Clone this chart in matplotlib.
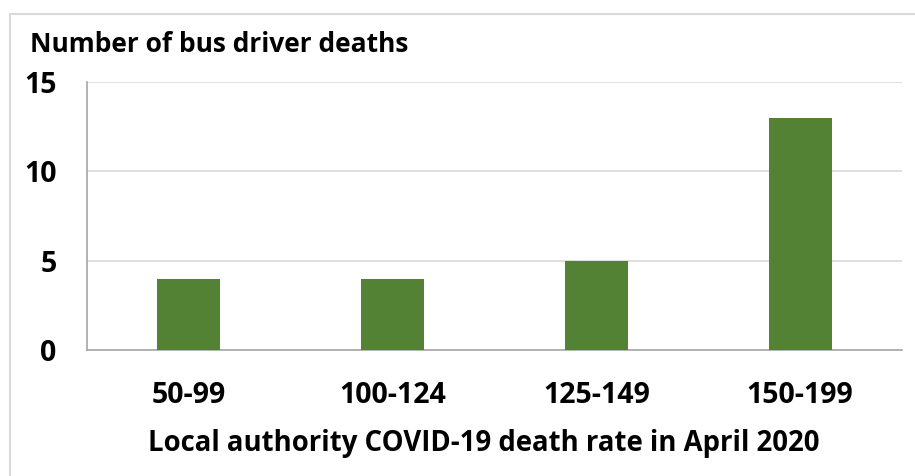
import matplotlib.pyplot as plt
from matplotlib.patches import Rectangle

# dados
faixas = ["50-99", "100-124", "125-149", "150-199"]
mortes = [4, 4, 5, 13]
ticks_y = [0, 5, 10, 15]

plt.rcParams['font.family'] = ['Open Sans', 'DejaVu Sans']
plt.rcParams['font.weight'] = 'bold'

fig = plt.figure(figsize=(9.15, 4.76), dpi=100)
W, H = 915, 476

# moldura externa
fig.patches.append(Rectangle((10 / W, -0.1), 1.2, (476 - 14) / H + 0.1,
                             transform=fig.transFigure, fill=False,
                             edgecolor="#d9d9d9", linewidth=1.5))

ax = fig.add_axes([87 / W, 1 - 350 / H, (902 - 87) / W, (350 - 82) / H])
ax.bar(range(len(faixas)), mortes, width=0.31, color="#548235", zorder=3)
ax.set_xlim(-0.5, len(faixas) - 0.5)
ax.set_ylim(0, 15)
ax.set_yticks(ticks_y)
ax.set_xticks(range(len(faixas)))
ax.set_xticklabels(faixas)
ax.grid(axis="y", color="#d9d9d9", linewidth=1.2, zorder=0)
for lado in ["top", "right"]:
    ax.spines[lado].set_visible(False)
for lado in ["left", "bottom"]:
    ax.spines[lado].set_color("#a6a6a6")
    ax.spines[lado].set_linewidth(1.2)
ax.tick_params(length=0, labelsize=20.5)
ax.tick_params(axis="x", pad=22)
ax.tick_params(axis="y", pad=22)
for t in ax.get_xticklabels() + ax.get_yticklabels():
    t.set_fontweight("bold")

fig.text(30 / W, 1 - 45 / H, "Number of bus driver deaths", fontsize=19,
         fontweight="bold", va="center", ha="left")
fig.text(484 / W, 1 - 443 / H, "Local authority COVID-19 death rate in April 2020",
         fontsize=19.8, fontweight="bold", va="center", ha="center")

fig.savefig("out.png", dpi=100)
